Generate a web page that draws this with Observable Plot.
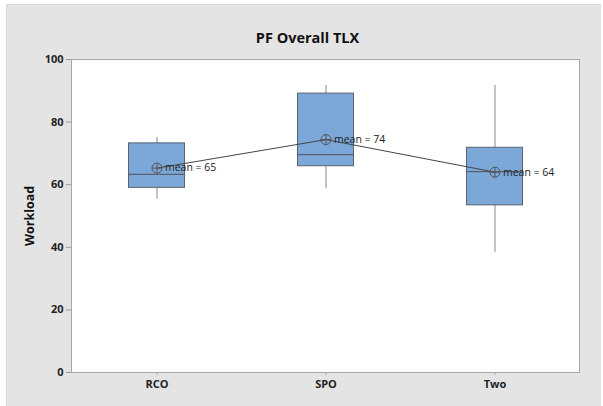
<!DOCTYPE html>
<html>
<head>
<meta charset="utf-8">
<script src="https://cdn.jsdelivr.net/npm/d3@7"></script>
<script src="https://cdn.jsdelivr.net/npm/@observablehq/plot@0.6"></script>
<style>
  html, body { margin: 0; padding: 0; background: #ffffff; }
  #wrap { position: relative; width: 603px; height: 406px; }
  #panel { position: absolute; left: 6px; top: 4px; width: 595px; height: 402px; background: #e4e4e4; border-top: 1px solid #d8d8d8; border-left: 1px solid #d8d8d8; box-sizing: border-box; }
  #chart { position: absolute; left: 0; top: 0; }
  #chart svg { background: transparent; }
</style>
</head>
<body>
<div id="wrap"><div id="panel"></div><div id="chart"></div></div>
<script>
const groups = ["RCO", "SPO", "Two"];
const whiskerLow = [55.4, 58.7, 38.4];
const q1 = [59.0, 65.9, 53.4];
const median = [63.3, 69.6, 64.2];
const q3 = [73.2, 89.1, 71.8];
const whiskerHigh = [75.1, 91.7, 91.7];
const means = [65.3, 74.4, 64.0];
const meanLabels = ["mean = 65", "mean = 74", "mean = 64"];
const yTicks = [0, 20, 40, 60, 80, 100];

const rows = groups.map((g, i) => ({
  g, lo: whiskerLow[i], q1: q1[i], med: median[i], q3: q3[i], hi: whiskerHigh[i], mean: means[i], label: meanLabels[i]
}));

const crossCircle = {
  draw(ctx, size) {
    const r = Math.sqrt(size / Math.PI);
    ctx.moveTo(r, 0);
    ctx.arc(0, 0, r, 0, 2 * Math.PI);
    ctx.moveTo(-r, 0); ctx.lineTo(r, 0);
    ctx.moveTo(0, -r); ctx.lineTo(0, r);
  }
};

const boxInset = 56.5;
const font = "'Open Sans', sans-serif";

const chart = Plot.plot({
  width: 603,
  height: 406,
  marginLeft: 71,
  marginRight: 24,
  marginTop: 59,
  marginBottom: 34,
  style: { fontFamily: font, background: "transparent", overflow: "visible" },
  x: { domain: groups, padding: 0, label: null },
  y: { domain: [0, 100], label: null },
  marks: [
    Plot.frame({ fill: "white", stroke: "#a8a8a8" }),
    Plot.axisY({ ticks: yTicks, tickSize: 5, tickPadding: 3, stroke: "#999", fontSize: 11, fontWeight: "bold", fill: "#222", label: null }),
    Plot.axisX({ tickSize: 3, tickPadding: 5, stroke: "#aaa", fontSize: 11, fontWeight: "bold", fill: "#222", label: null }),
    Plot.ruleX(rows, { x: "g", y1: "q3", y2: "hi", stroke: "#9a9a9a", strokeWidth: 1.2 }),
    Plot.ruleX(rows, { x: "g", y1: "lo", y2: "q1", stroke: "#9a9a9a", strokeWidth: 1.2 }),
    Plot.barY(rows, { x: "g", y1: "q1", y2: "q3", fill: "#7ba7d9", stroke: "#59626e", strokeWidth: 1, insetLeft: boxInset, insetRight: boxInset }),
    Plot.tickY(rows, { x: "g", y: "med", stroke: "#59626e", strokeWidth: 1.3, insetLeft: boxInset, insetRight: boxInset }),
    Plot.line(rows, { x: "g", y: "mean", stroke: "#444", strokeWidth: 1 }),
    Plot.dot(rows, { x: "g", y: "mean", r: 5, symbol: crossCircle, stroke: "#555", fill: "none", strokeWidth: 1 }),
    Plot.text(rows, { x: "g", y: "mean", text: "label", textAnchor: "start", dx: 8, fontSize: 10.5, fill: "#222" }),
    Plot.text(["Workload"], { frameAnchor: "left", rotate: -90, dx: -42, dy: 30, fontSize: 12.5, fontWeight: "bold", fill: "#111" }),
    Plot.text(["PF Overall TLX"], { frameAnchor: "top", dy: -27, dx: -18, fontSize: 14.5, fontWeight: "bold", fill: "#111" })
  ]
});
document.getElementById("chart").appendChild(chart);
</script>
</body>
</html>
